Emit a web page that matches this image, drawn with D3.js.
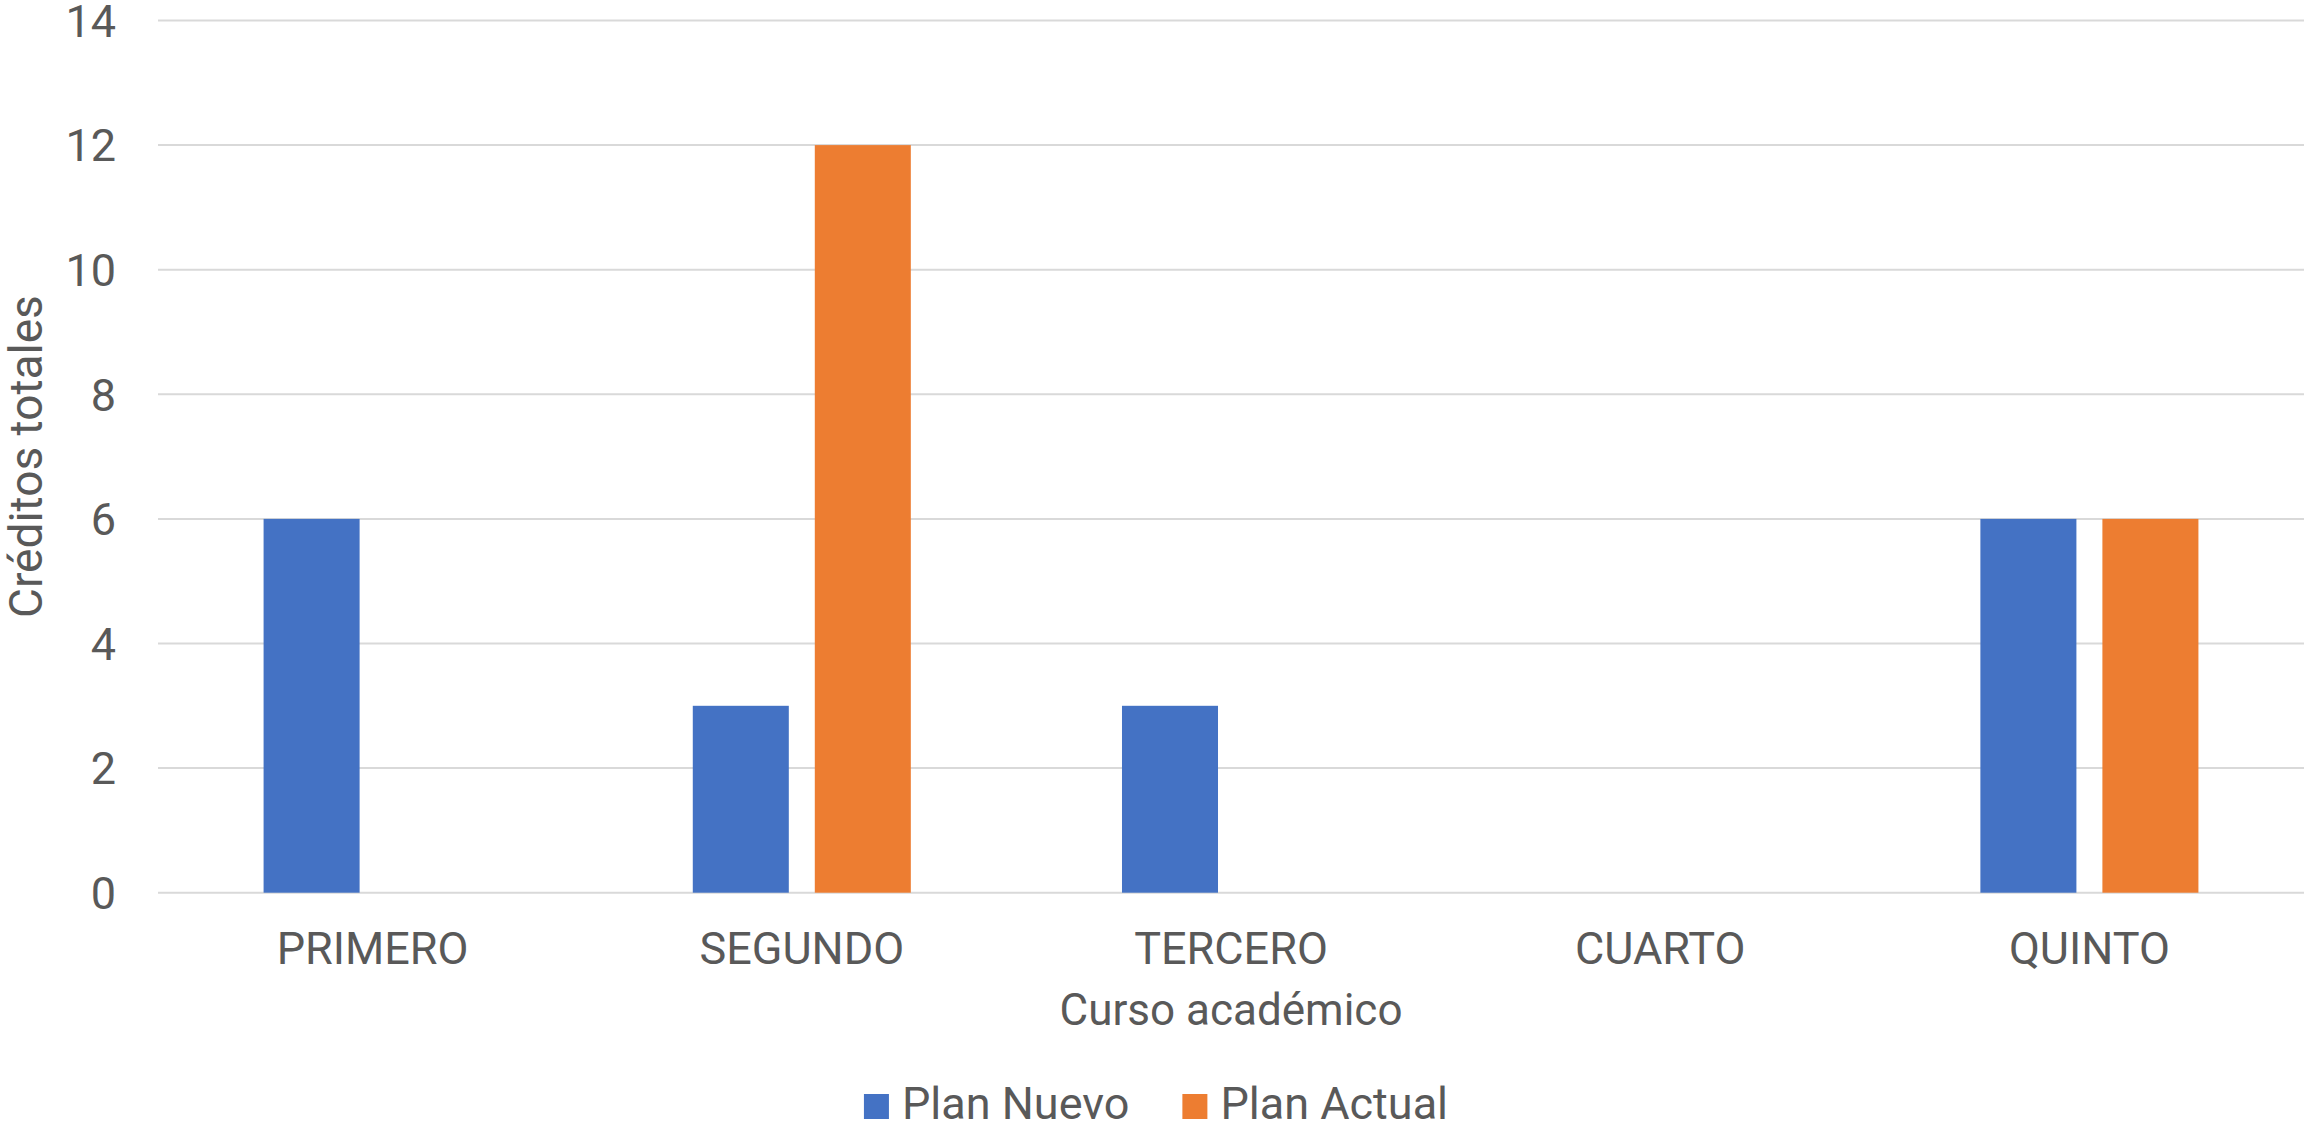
<!DOCTYPE html>
<html>
<head>
<meta charset="utf-8">
<script src="https://cdn.jsdelivr.net/npm/d3@7"></script>
<style>
  html, body { margin: 0; padding: 0; background: #fff; }
  svg { display: block; }
  text { font-family: Roboto, "Liberation Sans", sans-serif; fill: #595959; }
</style>
</head>
<body>
<script>
const categories = ["PRIMERO", "SEGUNDO", "TERCERO", "CUARTO", "QUINTO"];
const seriesNames = ["Plan Nuevo", "Plan Actual"];
const planNuevo = [6, 3, 3, 0, 6];
const planActual = [0, 12, 0, 0, 6];
const yTicks = [0, 2, 4, 6, 8, 10, 12, 14];
const colors = ["#4472C4", "#ED7D31"];
const yTitle = "Créditos totales";
const xTitle = "Curso académico";

const W = 2305, H = 1126;
const margin = { left: 158, right: 1, top: 20.5, bottom: 1126 - 892.7 };
const innerW = W - margin.left - margin.right;
const innerH = H - margin.top - margin.bottom;

const svg = d3.select("body").append("svg").attr("width", W).attr("height", H);
const g = svg.append("g").attr("transform", `translate(${margin.left},${margin.top})`);

const data = categories.map((c, i) => ({ cat: c, values: [planNuevo[i], planActual[i]] }));

const pIn = 0.492;
const x0 = d3.scaleBand().domain(categories).range([0, innerW]).paddingInner(pIn).paddingOuter(pIn / 2);
const x1 = d3.scaleBand().domain(d3.range(seriesNames.length)).range([0, x0.bandwidth()]).paddingInner(0.213).paddingOuter(0);
const y = d3.scaleLinear().domain([0, 14]).range([innerH, 0]);

// gridlines
g.append("g").selectAll("line").data(yTicks).join("line")
  .attr("x1", 0).attr("x2", innerW)
  .attr("y1", d => y(d)).attr("y2", d => y(d))
  .attr("stroke", "#D9D9D9").attr("stroke-width", 2);

// y axis labels
const yAxis = g.append("g").call(d3.axisLeft(y).tickValues(yTicks).tickSize(0).tickPadding(42).tickFormat(d3.format("d")));
yAxis.select(".domain").remove();
yAxis.selectAll("text").attr("font-size", 45).attr("fill", "#595959").attr("dy", "0.35em")
  .style("font-family", "Roboto, 'Liberation Sans', sans-serif");

// bars
const groups = g.append("g").selectAll("g").data(data).join("g")
  .attr("transform", d => `translate(${x0(d.cat)},0)`);
groups.selectAll("rect").data(d => d.values.map((v, i) => ({ v, i }))).join("rect")
  .attr("x", d => x1(d.i))
  .attr("width", x1.bandwidth())
  .attr("y", d => y(d.v))
  .attr("height", d => y(0) - y(d.v))
  .attr("fill", d => colors[d.i]);

// x axis labels
const xAxis = g.append("g").attr("transform", `translate(0,${innerH})`)
  .call(d3.axisBottom(x0).tickSize(0).tickPadding(0));
xAxis.select(".domain").remove();
xAxis.selectAll("text").attr("font-size", 45).attr("fill", "#595959")
  .attr("y", 71).attr("dy", 0)
  .style("font-family", "Roboto, 'Liberation Sans', sans-serif");

// axis titles
svg.append("text").attr("x", margin.left + innerW / 2).attr("y", 1025)
  .attr("text-anchor", "middle").attr("font-size", 44).text(xTitle);
svg.append("text").attr("transform", `translate(42,${margin.top + innerH / 2}) rotate(-90)`)
  .attr("text-anchor", "middle").attr("font-size", 46).text(yTitle);

// legend
const legend = svg.append("g");
const items = legend.selectAll("g").data(seriesNames).join("g");
items.append("rect").attr("width", 25).attr("height", 25).attr("y", 1094).attr("fill", (d, i) => colors[i]);
items.append("text").attr("x", 38).attr("y", 1119).attr("font-size", 45).text(d => d);
let widths = [];
items.each(function () { widths.push(38 + d3.select(this).select("text").node().getComputedTextLength()); });
const gap = 53;
const total = d3.sum(widths) + gap * (widths.length - 1);
let cx = 1156 - total / 2;
items.attr("transform", (d, i) => { const t = `translate(${cx},0)`; cx += widths[i] + gap; return t; });
</script>
</body>
</html>
